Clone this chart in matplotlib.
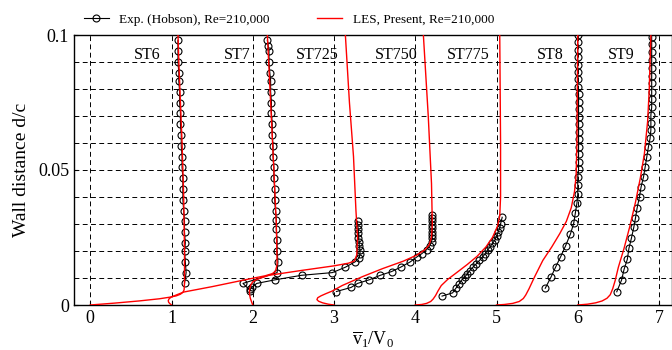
import numpy as np
import matplotlib
matplotlib.use("Agg")
import matplotlib.pyplot as plt
from matplotlib.ticker import FixedLocator, MultipleLocator

plt.rcParams['font.family'] = ['Liberation Serif', 'DejaVu Serif']
plt.rcParams['mathtext.fontset'] = 'custom'
plt.rcParams['mathtext.rm'] = 'Liberation Serif'
plt.rcParams['mathtext.it'] = 'Liberation Serif:italic'

# station names and where their labels sit (right edge, in data x)
station_names = ["ST6", "ST7", "ST725", "ST750", "ST775", "ST8", "ST9"]
label_x = [0.86, 1.97, 3.06, 4.03, 4.92, 5.82, 6.70]

# ---- experiment (Hobson), already shifted by station offset ----
exp_st6_x = [1.16, 1.18, 1.17, 1.16, 1.17, 1.16, 1.16, 1.15, 1.14, 1.14, 1.14, 1.13,
             1.13, 1.12, 1.12, 1.11, 1.11, 1.10, 1.10, 1.09, 1.09, 1.08, 1.08, 1.08]
exp_st6_y = [0.008, 0.012, 0.016, 0.020, 0.023, 0.027, 0.031, 0.035, 0.039, 0.043, 0.047, 0.051,
             0.055, 0.059, 0.063, 0.067, 0.071, 0.075, 0.079, 0.083, 0.086, 0.090, 0.094, 0.098]

exp_st7_x = [1.97, 1.88, 2.30, 2.31, 2.30, 2.30, 2.29, 2.29, 2.28, 2.27, 2.27, 2.26, 2.26,
             2.25, 2.25, 2.24, 2.24, 2.23, 2.23, 2.22, 2.22, 2.21, 2.20, 2.20, 2.19, 2.18]
exp_st7_y = [0.0053, 0.008, 0.012, 0.016, 0.020, 0.024, 0.028, 0.0315, 0.035, 0.039, 0.043,
             0.047, 0.051, 0.055, 0.059, 0.063, 0.067, 0.071, 0.075, 0.079, 0.083, 0.086,
             0.090, 0.094, 0.096, 0.098]

exp_st725_x = [1.97, 1.99, 2.05, 2.27, 2.60, 2.98, 3.14, 3.26, 3.31, 3.32, 3.32, 3.31,
               3.31, 3.30, 3.30, 3.30, 3.29, 3.29]
exp_st725_y = [0.0058, 0.0066, 0.008, 0.0093, 0.011, 0.012, 0.014, 0.016, 0.0175, 0.019,
               0.0205, 0.022, 0.0235, 0.025, 0.0265, 0.028, 0.0295, 0.031]

exp_st750_x = [3.03, 3.21, 3.29, 3.43, 3.57, 3.71, 3.82, 3.94, 4.02, 4.08, 4.14, 4.18, 4.20,
               4.21, 4.21, 4.21, 4.21, 4.20, 4.20, 4.20, 4.20]
exp_st750_y = [0.005, 0.0065, 0.008, 0.0093, 0.011, 0.0124, 0.014, 0.016, 0.0178, 0.019,
               0.0205, 0.022, 0.0235, 0.0247, 0.026, 0.0272, 0.0285, 0.0297, 0.031, 0.0322, 0.0335]

exp_st775_x = [4.33, 4.46, 4.50, 4.54, 4.57, 4.61, 4.64, 4.67, 4.71, 4.75, 4.79, 4.83, 4.86,
               4.89, 4.92, 4.95, 4.98, 5.00, 5.02, 5.04, 5.05, 5.07]
exp_st775_y = [0.0033, 0.0045, 0.0062, 0.0078, 0.0092, 0.0104, 0.0115, 0.0127, 0.014, 0.0152,
               0.0165, 0.0178, 0.019, 0.0203, 0.0215, 0.0228, 0.024, 0.0255, 0.027, 0.0285,
               0.030, 0.0325]

exp_st8_x = [5.60, 5.67, 5.73, 5.79, 5.85, 5.91, 5.95, 5.97, 5.99, 6.00, 6.00, 6.00, 6.01,
             6.01, 6.01, 6.01, 6.01, 6.01, 6.01, 6.01, 6.01, 6.01, 6.01, 6.00, 6.00, 6.00,
             6.00, 6.00, 6.00, 6.00, 6.00]
exp_st8_y = [0.0062, 0.0103, 0.0142, 0.0179, 0.0219, 0.0263, 0.0302, 0.034, 0.0377, 0.0411,
             0.0444, 0.0475, 0.0502, 0.0531, 0.0559, 0.0586, 0.0614, 0.0642, 0.067, 0.0697,
             0.0725, 0.0753, 0.0781, 0.0809, 0.0836, 0.0864, 0.089, 0.0917, 0.0944, 0.0973, 0.1]

exp_st9_x = [6.48, 6.54, 6.57, 6.61, 6.63, 6.66, 6.69, 6.71, 6.73, 6.76, 6.78, 6.81, 6.83,
             6.85, 6.87, 6.89, 6.90, 6.90, 6.90, 6.91, 6.91, 6.91, 6.91, 6.91, 6.91, 6.91,
             6.91, 6.91, 6.91]
exp_st9_y = [0.0049, 0.0093, 0.0132, 0.0169, 0.021, 0.0247, 0.0288, 0.0321, 0.0358, 0.0401,
             0.0438, 0.0475, 0.0512, 0.0549, 0.0586, 0.0617, 0.0648, 0.0675, 0.0704, 0.0732,
             0.0762, 0.079, 0.0821, 0.0849, 0.0877, 0.0907, 0.0938, 0.0967, 0.0994]

# ---- LES, present ----
les_st6_x = [0.0, 0.3, 0.6, 0.85, 0.98, 1.06, 1.11, 1.14, 1.155, 1.16, 1.16, 1.15, 1.13,
             1.11, 1.09, 1.08]
les_st6_y = [0.0, 0.0007, 0.0015, 0.0023, 0.0029, 0.0034, 0.004, 0.0047, 0.0056, 0.008, 0.02,
             0.04, 0.06, 0.075, 0.09, 0.1]

les_st7_x = [1.0, 0.98, 0.965, 0.96, 0.97, 1.0, 1.05, 1.1, 1.15, 1.5, 1.9, 2.15, 2.24, 2.28,
             2.30, 2.29, 2.26, 2.22, 2.18]
les_st7_y = [0.0, 0.0005, 0.001, 0.0016, 0.0023, 0.003, 0.0036, 0.0042, 0.0048, 0.0068,
             0.0093, 0.0108, 0.0116, 0.0125, 0.015, 0.03, 0.05, 0.075, 0.1]

les_st725_x = [2.0, 1.985, 1.97, 1.96, 1.96, 1.975, 2.0, 2.05, 2.2, 2.6, 3.0, 3.18, 3.25,
               3.28, 3.29, 3.27, 3.24, 3.19, 3.14]
les_st725_y = [0.0, 0.0012, 0.0025, 0.004, 0.0058, 0.0074, 0.0086, 0.0095, 0.011, 0.0128,
               0.0145, 0.0155, 0.0163, 0.0185, 0.025, 0.035, 0.055, 0.075, 0.1]

les_st750_x = [3.0, 2.93, 2.86, 2.81, 2.79, 2.8, 2.84, 2.9, 2.98, 3.1, 3.35, 3.6, 3.85, 4.02,
               4.12, 4.17, 4.2, 4.21, 4.2, 4.16, 4.1]
les_st750_y = [0.0, 0.0003, 0.0008, 0.0014, 0.002, 0.0027, 0.0034, 0.0042, 0.0052, 0.0072,
               0.0105, 0.0135, 0.0162, 0.0185, 0.0205, 0.0222, 0.025, 0.03, 0.045, 0.07, 0.1]

les_st775_x = [4.0, 4.08, 4.14, 4.19, 4.22, 4.25, 4.28, 4.32, 4.4, 4.51, 4.64, 4.76, 4.87,
               4.95, 5.01, 5.04, 5.05, 5.05, 5.04]
les_st775_y = [0.0, 0.0002, 0.0006, 0.0013, 0.0022, 0.0035, 0.0052, 0.0072, 0.0095, 0.012,
               0.015, 0.018, 0.0215, 0.025, 0.029, 0.033, 0.04, 0.06, 0.1]

les_st8_x = [5.0, 5.1, 5.2, 5.28, 5.33, 5.36, 5.4, 5.47, 5.57, 5.68, 5.78, 5.86, 5.92, 5.96,
             5.98, 5.99, 6.0]
les_st8_y = [0.0, 0.0002, 0.0006, 0.0013, 0.0024, 0.0037, 0.006, 0.0105, 0.0165, 0.0215,
             0.0265, 0.031, 0.036, 0.042, 0.048, 0.06, 0.1]

les_st9_x = [6.0, 6.12, 6.22, 6.3, 6.36, 6.4, 6.43, 6.46, 6.5, 6.57, 6.64, 6.71, 6.77, 6.82,
             6.86, 6.88, 6.9]
les_st9_y = [0.0, 0.0003, 0.0008, 0.0015, 0.0025, 0.0038, 0.006, 0.009, 0.014, 0.021, 0.029,
             0.038, 0.047, 0.056, 0.068, 0.08, 0.1]

exp_series = [(exp_st6_x, exp_st6_y), (exp_st7_x, exp_st7_y), (exp_st725_x, exp_st725_y),
              (exp_st750_x, exp_st750_y), (exp_st775_x, exp_st775_y), (exp_st8_x, exp_st8_y),
              (exp_st9_x, exp_st9_y)]
les_series = [(les_st6_x, les_st6_y), (les_st7_x, les_st7_y), (les_st725_x, les_st725_y),
              (les_st750_x, les_st750_y), (les_st775_x, les_st775_y), (les_st8_x, les_st8_y),
              (les_st9_x, les_st9_y)]

fig = plt.figure(figsize=(6.72, 3.5), dpi=100)
ax = fig.add_axes([74 / 672, 45 / 350, 598 / 672, 270 / 350])

grid_style = dict(color="black", linestyle=(0, (5, 3.5)), linewidth=0.7)
for i, (xs, ys) in enumerate(exp_series):
    ax.plot(xs, ys, color="black", lw=0.8, marker="o", ms=5, mfc="none", mew=0.8,
            label="Exp. (Hobson), Re=210,000" if i == 0 else None, zorder=3)
for i, (xs, ys) in enumerate(les_series):
    ax.plot(xs, ys, color="red", lw=1.0,
            label="LES, Present, Re=210,000" if i == 0 else None, zorder=4)

for name, lx in zip(station_names, label_x):
    ax.text(lx, 0.0925, name, ha="right", va="center", fontsize=11.5)

ax.set_xlim(-0.2, 7.16)
ax.set_ylim(0, 0.1)
ax.xaxis.set_major_locator(FixedLocator(range(0, 8)))
ax.yaxis.set_major_locator(FixedLocator([0, 0.05, 0.1]))
ax.yaxis.set_minor_locator(MultipleLocator(0.01))
ax.set_yticklabels(["0", "0.05", "0.1"])
ax.grid(True, which="major", axis="x", **grid_style)
ax.grid(True, which="both", axis="y", **grid_style)
ax.set_axisbelow(True)
ax.tick_params(which="both", direction="in", labelsize=13, length=3, width=0.8)
ax.tick_params(which="minor", length=0)
for sp in ax.spines.values():
    sp.set_linewidth(1.0)

ax.set_xlabel(r"$\overline{\mathrm{v}}_1/\mathrm{V}_0$", fontsize=13, labelpad=2)
ax.set_ylabel("Wall distance d/c", fontsize=14, labelpad=6)

fig.legend(loc="center", bbox_to_anchor=(0.43, 0.943), ncol=2, frameon=False,
           fontsize=9.5, handlelength=1.9, columnspacing=3.6, handletextpad=0.8)

fig.savefig("out.png", dpi=100)
